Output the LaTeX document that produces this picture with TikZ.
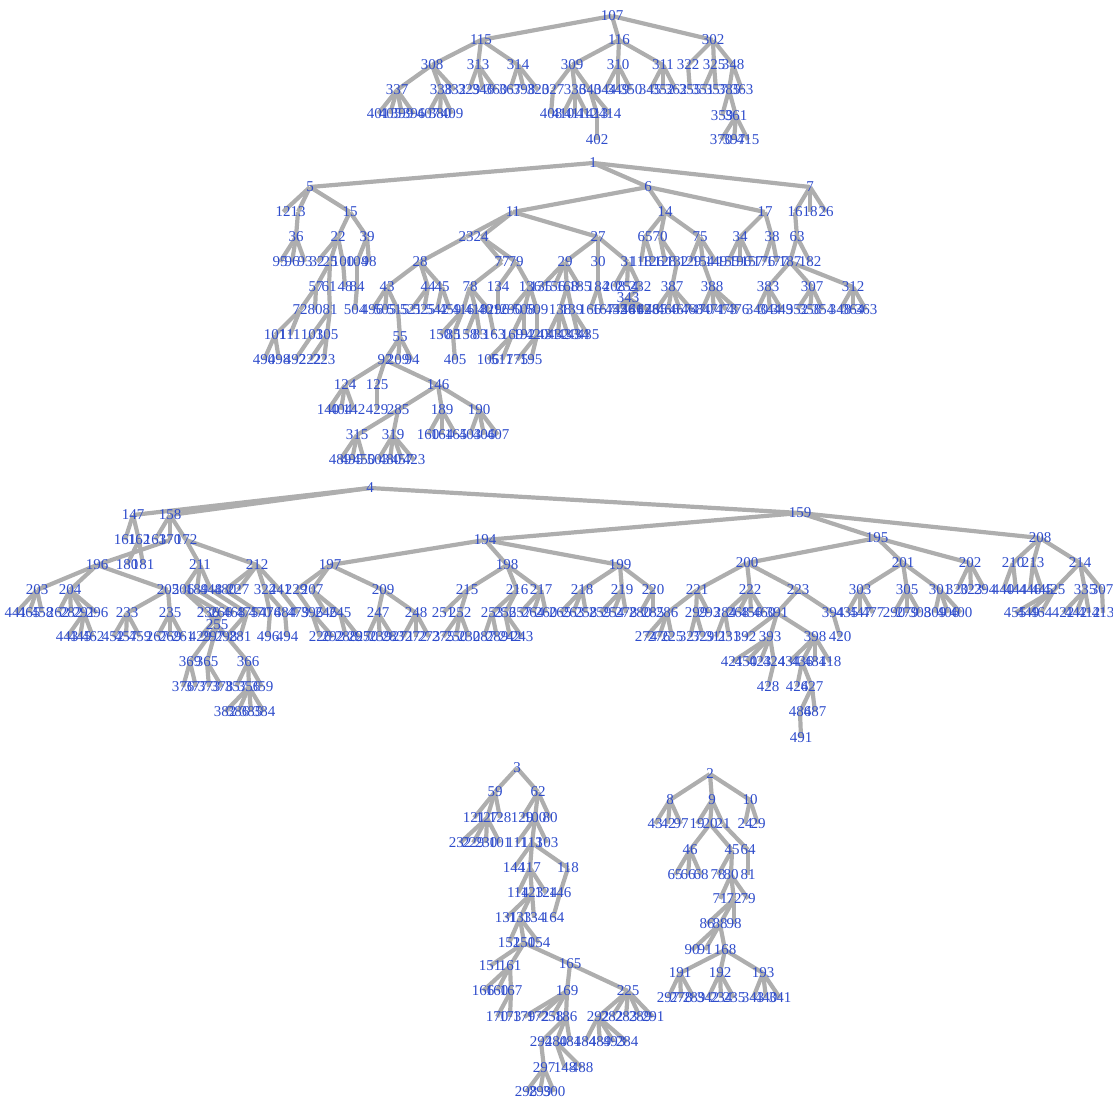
\documentclass[tikz,border=0pt]{standalone}
\usepackage{fontspec}
\setmainfont{Liberation Serif}
\definecolor{vxlabel}{HTML}{2E4CCB}
\definecolor{vxedge}{HTML}{AEAEAE}

% vertex/x/y/parent
\newcommand{\treeA}{
  115/481/40/107, 116/619/40/107, 302/713/40/107,
  308/432/65/115, 313/478/65/115, 314/518/65/115, 309/572/65/116, 310/618/65/116,
  311/663/65/116, 322/688/65/302, 325/714/65/302, 348/733/65/302,
  337/397/90/308, 338/441/90/308, 332/455/90/308, 329/469/90/313, 346/483/90/313,
  360/496/90/313, 367/510/90/314, 398/524/90/314, 320/538/90/314, 327/553/90/309,
  336/575/90/309, 340/590/90/309, 344/605/90/310, 349/618/90/310, 350/631/90/310,
  345/650/90/311, 352/663/90/311, 362/676/90/311, 355/690/90/322, 351/703/90/325,
  357/716/90/325, 385/729/90/348, 363/742/90/348,
  401/378/114/337, 405/390/114/337, 399/402/114/337, 396/414/114/337, 407/428/114/338,
  380/440/114/338, 409/452/114/338, 408/551/114/327, 410/563/114/336, 411/575/114/336,
  412/587/114/336, 413/597/114/340, 414/610/114/340, 359/722/116/385, 361/736/116/385,
  402/597/140/413, 370/721/140/361, 397/734/140/361, 415/748/140/361}
\newcommand{\treeB}{
  5/310/187/1, 6/648/187/1, 7/810/187/1,
  12/283/212/5, 13/298/212/5, 15/350/212/5, 11/513/212/6, 14/665/212/6, 17/765/212/6,
  16/795/212/7, 18/810/212/7, 26/826/212/7,
  36/296/237/13, 22/338/237/15, 39/367/237/15, 23/466/237/11, 24/481/237/11,
  27/598/237/11, 65/645/237/14, 70/660/237/14, 75/700/237/14, 34/740/237/17,
  38/772/237/17, 63/797/237/16,
  95/280/262/36, 96/292/262/36, 93/305/262/36, 32/317/262/22, 25/330/262/22,
  100/343/262/22, 104/357/262/39, 98/369/262/39, 28/420/262/23, 77/502/262/24,
  79/516/262/24, 29/565/262/27, 30/598/262/27, 31/628/262/27, 118/641/262/65,
  126/653/262/65, 128/665/262/70, 132/677/262/70, 129/690/262/75, 154/703/262/75,
  149/716/262/75, 155/728/262/34, 196/740/262/34, 157/752/262/34, 176/764/262/38,
  177/777/262/38, 187/790/262/63, 182/810/262/63,
  57/316/287/25, 61/329/287/25, 48/345/287/100, 84/357/287/104, 43/387/287/28,
  44/428/287/28, 45/442/287/28, 78/470/287/77, 134/498/287/79, 136/530/287/79,
  135/541/287/29, 156/554/287/29, 168/567/287/29, 185/580/287/29, 184/598/287/30,
  208/614/287/31, 254/627/287/31, 232/640/287/31, 387/672/287/132, 388/712/287/154,
  383/768/287/187, 307/812/287/187, 312/853/287/187, 343/628/298/232,
  72/300/310/57, 80/315/310/57, 81/330/310/61, 504/355/310/84, 496/372/310/43,
  505/385/310/43, 515/398/310/43, 521/411/310/44, 525/424/310/44, 542/437/310/45,
  459/450/310/45, 416/463/310/78, 418/476/310/78, 401/489/310/78, 296/498/310/134,
  290/511/310/136, 508/524/310/136, 509/537/310/136, 138/560/310/168, 139/572/310/168,
  166/590/310/184, 167/603/310/184, 452/616/310/343, 456/624/310/343, 461/632/310/343,
  462/640/310/343, 478/648/310/343, 465/656/310/387, 466/668/310/387, 467/680/310/387,
  468/692/310/387, 470/702/310/388, 471/714/310/388, 473/726/310/388, 476/738/310/388,
  340/757/310/383, 344/770/310/383, 349/782/310/383, 352/797/310/307, 358/810/310/307,
  354/823/310/307, 348/840/310/312, 364/853/310/312, 363/866/310/312,
  101/275/335/72, 111/290/335/72, 103/312/335/81, 105/327/335/81, 55/400/337/515,
  150/440/335/416, 85/453/335/416, 158/466/335/418, 83/480/335/418, 163/494/335/401,
  169/512/335/508, 192/524/335/508, 420/537/335/509, 431/548/335/138, 432/558/335/138,
  433/568/335/138, 434/578/335/139, 435/588/335/139,
  490/264/360/101, 498/279/360/101, 492/295/360/103, 222/310/360/105, 223/324/360/105,
  92/385/360/55, 209/398/360/55, 94/412/360/55, 405/455/360/85, 106/488/360/169,
  517/502/360/169, 175/517/360/420, 195/531/360/420,
  124/345/385/92, 125/377/385/92, 146/438/385/92,
  140/328/410/124, 404/341/410/124, 142/354/410/124, 429/377/410/125, 285/398/410/146,
  189/442/410/146, 190/479/410/146,
  315/357/435/285, 319/393/435/285, 160/428/435/189, 164/442/435/189, 165/456/435/189,
  403/470/435/190, 406/484/435/190, 407/498/435/190,
  489/340/460/315, 495/352/460/315, 450/364/460/315, 503/378/460/319, 480/390/460/319,
  457/402/460/319, 423/414/460/319}
\newcommand{\treeC}{
  147/133/515/4, 158/170/515/4, 159/800/513/4,
  161/125/540/147, 162/139/540/147, 163/155/540/158, 170/170/540/158, 172/186/540/158,
  194/485/540/159, 195/877/538/159, 208/1040/538/159,
  196/97/565/170, 180/127/565/162, 181/143/565/162, 211/200/565/172, 212/257/565/172,
  197/330/565/194, 198/507/565/194, 199/620/565/194, 200/747/563/195, 201/903/563/195,
  202/970/563/195, 210/1013/563/208, 213/1033/563/208, 214/1080/563/208,
  203/37/590/196, 204/70/590/196, 205/168/590/196, 206/183/590/211, 189/197/590/211,
  448/211/590/211, 480/225/590/212, 227/238/590/212, 324/265/590/212, 241/280/590/212,
  229/296/590/197, 207/312/590/197, 209/383/590/197, 215/467/590/198, 216/517/590/198,
  217/541/590/198, 218/582/590/199, 219/622/590/199, 220/653/590/199, 221/697/590/200,
  222/750/590/200, 223/798/590/200, 303/860/590/201, 305/907/590/201, 301/940/590/201,
  320/957/590/202, 323/971/590/202, 294/985/590/202, 440/1003/590/210, 444/1016/590/210,
  446/1030/590/213, 445/1042/590/213, 425/1054/590/214, 335/1085/590/214, 307/1102/590/214,
  441/16/613/203, 465/29/613/203, 458/42/613/203, 262/58/613/204, 282/71/613/204,
  291/84/613/204, 296/97/613/204, 233/127/613/205, 235/170/613/205, 236/208/613/206,
  266/221/613/206, 468/234/613/189, 475/247/613/448, 470/260/613/480, 476/270/613/324,
  484/285/613/324, 479/298/613/241, 396/312/613/229, 246/326/613/207, 245/340/613/207,
  247/378/613/209, 248/416/613/209, 251/443/613/215, 252/460/613/215, 253/492/613/216,
  256/505/613/216, 257/520/613/217, 264/533/613/217, 260/546/613/217, 265/560/613/218,
  263/573/613/218, 258/586/613/218, 259/600/613/219, 254/613/613/219, 278/626/613/219,
  280/640/613/220, 285/653/613/220, 286/667/613/221, 299/696/613/221, 293/709/613/221,
  284/725/613/222, 268/738/613/222, 456/751/613/222, 460/764/613/222, 391/777/613/223,
  394/833/613/223, 435/847/613/303, 447/860/613/303, 477/873/613/303, 290/894/613/305,
  279/907/613/305, 308/920/613/305, 309/935/613/301, 406/948/613/301, 400/961/613/301,
  455/1015/613/425, 449/1028/613/425, 464/1041/613/425, 422/1063/613/335,
  442/1076/613/335, 412/1089/613/335, 413/1103/613/307,
  255/217/625/236,
  443/67/637/291, 445/80/637/291, 462/93/637/291, 452/113/637/233, 457/126/637/233,
  459/140/637/233, 267/157/637/235, 269/170/637/235, 261/183/637/235, 429/200/637/266,
  297/213/637/266, 298/226/637/475, 281/240/637/475, 496/268/637/476, 494/287/637/484,
  226/320/637/396, 292/333/637/396, 288/346/637/245, 295/359/637/245, 270/367/637/247,
  239/380/637/247, 283/393/637/247, 271/403/637/248, 272/416/637/248, 273/429/637/248,
  275/443/637/252, 250/456/637/252, 230/469/637/252, 287/484/637/253, 289/497/637/253,
  242/510/637/256, 243/522/637/256, 274/646/637/286, 276/659/637/286, 225/672/637/286,
  327/690/637/299, 329/703/637/299, 311/716/637/284, 231/729/637/284, 392/745/637/391,
  393/770/637/391, 398/815/637/391, 420/840/637/394,
  369/190/662/255, 365/207/662/255, 366/248/662/255, 421/732/662/393, 450/746/662/393,
  423/760/662/393, 424/774/662/393, 434/789/662/398, 436/802/662/398, 481/815/662/398,
  418/830/662/398,
  376/183/687/369, 377/196/687/369, 373/209/687/365, 378/222/687/365, 357/236/687/366,
  356/249/687/366, 359/262/687/366, 428/768/687/424, 426/797/687/436, 427/812/687/436,
  382/225/712/356, 386/238/712/356, 385/251/712/356, 384/264/712/356, 486/800/712/427,
  487/815/712/427,
  491/801/738/486}
\newcommand{\treeD}{
  59/495/792/3, 62/538/792/3,
  121/474/818/59, 127/487/818/59, 128/500/818/59, 129/522/818/62, 100/535/818/62,
  80/550/818/62,
  232/460/843/127, 229/473/843/127, 230/486/843/127, 101/500/843/127, 111/517/843/100,
  113/532/843/100, 103/547/843/100,
  144/514/868/113, 117/530/868/113, 118/568/868/113,
  114/518/893/117, 123/532/893/117, 124/546/893/117, 146/560/893/118,
  131/506/918/123, 133/520/918/123, 134/534/918/123, 164/553/918/146,
  152/509/943/133, 150/524/943/133, 154/539/943/133,
  151/490/966/150, 161/510/966/150, 165/570/964/150,
  166/483/991/161, 160/497/991/161, 167/511/991/161, 169/567/991/165, 225/628/991/165,
  170/497/1017/167, 173/510/1017/167, 179/524/1017/169, 172/538/1017/169,
  258/552/1017/169, 186/566/1017/169, 292/598/1017/225, 282/612/1017/225,
  283/626/1017/225, 289/640/1017/225, 291/653/1017/225,
  294/541/1042/186, 280/556/1042/186, 481/570/1042/186, 484/585/1042/292,
  489/600/1042/292, 493/614/1042/292, 284/627/1042/292,
  297/544/1068/294, 148/565/1068/280, 488/582/1068/280,
  298/526/1092/297, 299/540/1092/297, 300/554/1092/297}
\newcommand{\treeE}{
  8/670/800/2, 9/712/800/2, 10/750/800/2,
  43/655/824/8, 42/668/824/8, 97/681/824/8, 19/697/824/9, 20/710/824/9, 21/723/824/9,
  24/745/824/10, 29/758/824/10,
  46/690/850/20, 45/732/850/20, 64/748/850/21,
  65/675/875/46, 66/688/875/46, 68/701/875/46, 78/718/875/45, 80/731/875/45,
  81/748/875/64,
  71/720/899/80, 72/734/899/80, 79/748/899/80,
  86/707/924/72, 88/720/924/72, 98/734/924/72,
  90/692/950/88, 91/705/950/88, 168/725/950/88,
  191/680/973/168, 192/720/973/168, 193/763/973/168,
  297/668/998/191, 278/681/998/191, 289/694/998/191, 342/708/998/192, 234/721/998/192,
  235/734/998/192, 343/753/998/193, 440/766/998/193, 341/780/998/193}

\begin{document}
\begin{tikzpicture}[
  x=1pt, y=-1pt,
  vpt/.style={inner sep=0pt, minimum size=0pt},
  vlab/.style={text=vxlabel, inner sep=0pt, font=\fontsize{15}{15}\selectfont},
  link/.style={draw=vxedge, line width=4.2pt}
]
\useasboundingbox (0,0) rectangle (1113,1099);

% vertex points and links
\node[vpt] (a107) at (612,16) {};
\foreach \v/\x/\y/\p in \treeA {
  \node[vpt] (a\v) at (\x,\y) {};
  \draw[link] (a\p) -- (a\v);
}
\node[vpt] (b1) at (593,163) {};
\foreach \v/\x/\y/\p in \treeB {
  \node[vpt] (b\v) at (\x,\y) {};
  \draw[link] (b\p) -- (b\v);
}
\node[vpt] (c4) at (370,488) {};
\foreach \v/\x/\y/\p in \treeC {
  \node[vpt] (c\v) at (\x,\y) {};
  \draw[link] (c\p) -- (c\v);
}
\node[vpt] (d3) at (517,768) {};
\foreach \v/\x/\y/\p in \treeD {
  \node[vpt] (d\v) at (\x,\y) {};
  \draw[link] (d\p) -- (d\v);
}
\node[vpt] (e2) at (710,774) {};
\foreach \v/\x/\y/\p in \treeE {
  \node[vpt] (e\v) at (\x,\y) {};
  \draw[link] (e\p) -- (e\v);
}

% vertex labels on top
\node[vlab] (la107) at (a107) {107};
\foreach \v/\x/\y/\p in \treeA \node[vlab] (la\v) at (\x,\y) {\v};
\node[vlab] (lb1) at (b1) {1};
\foreach \v/\x/\y/\p in \treeB \node[vlab] (lb\v) at (\x,\y) {\v};
\node[vlab] (lc4) at (c4) {4};
\foreach \v/\x/\y/\p in \treeC \node[vlab] (lc\v) at (\x,\y) {\v};
\node[vlab] (ld3) at (d3) {3};
\foreach \v/\x/\y/\p in \treeD \node[vlab] (ld\v) at (\x,\y) {\v};
\node[vlab] (le2) at (e2) {2};
\foreach \v/\x/\y/\p in \treeE \node[vlab] (le\v) at (\x,\y) {\v};
\end{tikzpicture}
\end{document}
